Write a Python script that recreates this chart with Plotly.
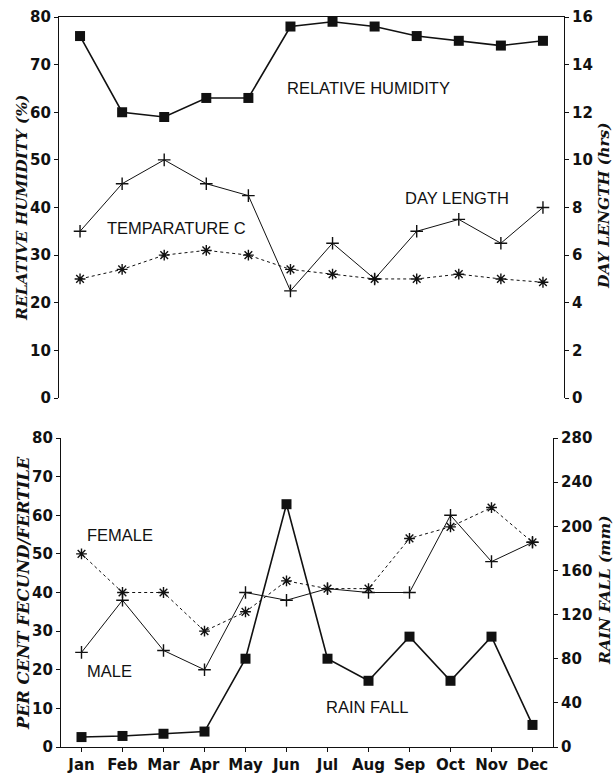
import plotly.graph_objects as go

W, H = 615, 773
months = ["Jan", "Feb", "Mar", "Apr", "May", "Jun", "Jul", "Aug", "Sep", "Oct", "Nov", "Dec"]

# Top panel
rel_humidity = [76, 60, 59, 63, 63, 78, 79, 78, 76, 75, 74, 75]          # %
day_length = [7, 9, 10, 9, 8.5, 4.5, 6.5, 5, 7, 7.5, 6.5, 8]              # hrs (right axis)
temperature = [25, 27, 30, 31, 30, 27, 26, 25, 25, 26, 25, 24.3]          # C (left axis)

# Bottom panel
female = [50, 40, 40, 30, 35, 43, 41, 41, 54, 57, 62, 53]                 # %
male = [24.5, 38, 25, 20, 40, 38, 41, 40, 40, 60, 48, 53]                 # %
rain_fall = [9, 10, 12, 14, 80, 220, 80, 60, 100, 60, 100, 20]            # mm (right axis)

left_ticks_top = [0, 10, 20, 30, 40, 50, 60, 70, 80]
right_ticks_top = [0, 2, 4, 6, 8, 10, 12, 14, 16]
left_ticks_bot = [0, 10, 20, 30, 40, 50, 60, 70, 80]
right_ticks_bot = [0, 40, 80, 120, 160, 200, 240, 280]

def px(x):
    return x / W

def py(y):
    return 1 - y / H

x_top = [px(59), px(564)]
x_bot = [px(61), px(553)]
y_top = [py(398), py(17)]
y_bot = [py(747), py(438)]

fig = go.Figure()
black = "#111111"

sq = dict(symbol="square", size=10, color=black)
plus = dict(symbol="cross-thin-open", size=9, color=black, line=dict(width=1.4, color=black))
ast = dict(symbol="asterisk-open", size=9, color=black, line=dict(width=1.4, color=black))

# top panel traces
fig.add_trace(go.Scatter(x=months, y=rel_humidity, mode="lines+markers", xaxis="x", yaxis="y",
                         line=dict(color=black, width=1.6), marker=sq, showlegend=False))
fig.add_trace(go.Scatter(x=months, y=day_length, mode="lines+markers", xaxis="x", yaxis="y2",
                         line=dict(color=black, width=1), marker=plus, showlegend=False))
fig.add_trace(go.Scatter(x=months, y=temperature, mode="lines+markers", xaxis="x", yaxis="y",
                         line=dict(color=black, width=1, dash="dot"), marker=ast, showlegend=False))

# bottom panel traces
fig.add_trace(go.Scatter(x=months, y=female, mode="lines+markers", xaxis="x2", yaxis="y3",
                         line=dict(color=black, width=1, dash="dot"), marker=ast, showlegend=False))
fig.add_trace(go.Scatter(x=months, y=male, mode="lines+markers", xaxis="x2", yaxis="y3",
                         line=dict(color=black, width=1), marker=plus, showlegend=False))
fig.add_trace(go.Scatter(x=months, y=rain_fall, mode="lines+markers", xaxis="x2", yaxis="y4",
                         line=dict(color=black, width=1.6), marker=sq, showlegend=False))

tickfont = dict(family="DejaVu Sans", size=15, color=black, weight="bold")
common_y = dict(showgrid=False, zeroline=False, showline=True, linecolor=black, linewidth=1.2,
                ticks="outside", ticklen=4, tickcolor=black, tickfont=tickfont, automargin=False)

fig.update_layout(
    width=W, height=H,
    margin=dict(l=0, r=0, t=0, b=0, pad=0),
    paper_bgcolor="white", plot_bgcolor="white",
    xaxis=dict(domain=x_top, anchor="y", range=[-0.5, 11.5], showticklabels=False,
               showgrid=False, zeroline=False, showline=True, mirror=False, side="top",
               linecolor=black, linewidth=1.2, ticks="", automargin=False),
    yaxis=dict(domain=y_top, anchor="x", range=[0, 80], tickvals=left_ticks_top, **common_y),
    yaxis2=dict(domain=y_top, anchor="x", overlaying="y", side="right", range=[0, 16],
                tickvals=right_ticks_top, **common_y),
    xaxis2=dict(domain=x_bot, anchor="y3", range=[-0.5, 11.5], showgrid=False, zeroline=False,
                showline=True, linecolor=black, linewidth=1.2, ticks="outside", ticklen=4,
                tickcolor=black, tickfont=tickfont, automargin=False),
    yaxis3=dict(domain=y_bot, anchor="x2", range=[0, 80], tickvals=left_ticks_bot, **common_y),
    yaxis4=dict(domain=y_bot, anchor="x2", overlaying="y3", side="right", range=[0, 280],
                tickvals=right_ticks_bot, **common_y),
)

lab_font = dict(family="Liberation Sans", size=16.5, color=black)
labels = [
    ("RELATIVE HUMIDITY", 368, 88),
    ("TEMPARATURE C", 176, 228),
    ("DAY LENGTH", 457, 198),
    ("FEMALE", 120, 535),
    ("MALE", 109, 671),
    ("RAIN FALL", 367, 707),
]
for t, x, y in labels:
    fig.add_annotation(text=t, x=px(x), y=py(y), xref="paper", yref="paper",
                       showarrow=False, font=lab_font, xanchor="center", yanchor="middle")

titles = [
    ("RELATIVE HUMIDITY (%)", 21, 208, 15.5),
    ("DAY LENGTH (hrs)", 603, 206, 15.5),
    ("PER CENT FECUND/FERTILE", 23, 593, 16.5),
    ("RAIN FALL (mm)", 604, 590, 15.5),
]
for t, x, y, s in titles:
    fig.add_annotation(text=t, x=px(x), y=py(y), xref="paper", yref="paper", textangle=-90,
                       showarrow=False, xanchor="center", yanchor="middle",
                       font=dict(family="DejaVu Serif", size=s, color=black,
                                 style="italic", weight="bold"))

fig.write_html("out.html", config={"displayModeBar": False},
               post_script="document.body.style.margin='0';document.body.style.overflow='hidden';")
